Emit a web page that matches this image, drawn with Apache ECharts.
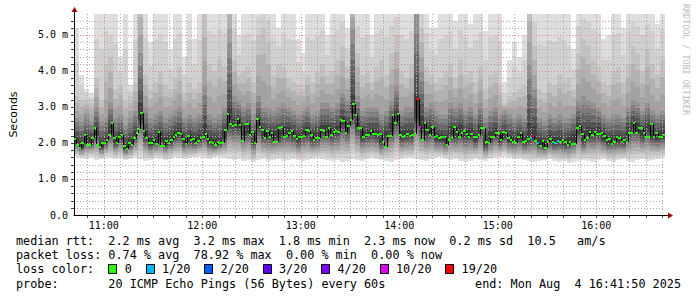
<!DOCTYPE html>
<html><head><meta charset="utf-8">
<script src="https://cdn.jsdelivr.net/npm/echarts@6/dist/echarts.min.js"></script>
<style>html,body{margin:0;padding:0;background:#fff}#c{width:697px;height:297px}</style>
</head><body><div id="c"></div>
<script>
// ---- time base (minutes since midnight) ----
const startMinute = 641 + 50 / 60;   // 10:41:50
const spanMinutes = 360;
const endMinute = startMinute + spanMinutes; // 16:41:50
const smokeStep = 3;      // minutes per smoke column
const medianStep = 1.5;   // minutes per median sample

// ---- median rtt, one value per 1.5 minutes (ms) ----
const medianRtt = [
 2.10,1.94,1.86,2.00,2.22,1.95,1.94,2.15,2.41,1.95,
 1.88,2.00,1.99,2.09,2.22,2.55,2.15,2.00,2.18,2.22,
 1.93,1.84,2.00,1.95,2.15,2.28,2.40,2.84,2.32,2.13,
 2.00,1.99,2.08,1.97,2.30,1.92,1.93,2.05,2.00,2.07,
 2.17,2.22,2.28,2.25,2.10,1.96,2.20,2.08,2.10,2.00,
 2.05,2.13,2.18,2.25,2.10,2.03,2.00,1.95,2.03,2.00,
 2.00,2.35,2.80,2.52,2.46,2.50,2.67,2.50,2.05,2.53,
 2.53,2.22,2.31,1.99,2.68,2.45,2.36,2.13,2.34,2.18,
 2.29,2.04,2.04,2.41,2.45,2.18,2.20,2.27,2.34,2.20,
 2.10,2.18,2.18,2.20,2.35,2.34,2.22,2.08,2.15,2.15,
 2.36,2.33,2.18,2.42,2.22,2.31,2.34,2.31,2.64,2.61,
 2.27,2.47,2.65,3.08,2.78,2.43,2.41,2.17,2.22,2.23,
 2.34,2.25,2.26,2.22,2.25,2.04,1.90,2.20,2.20,2.78,
 2.56,2.80,2.22,2.16,2.20,2.25,2.20,2.23,2.25,3.22,
 2.45,2.08,2.56,2.36,2.22,2.45,2.18,2.20,2.13,2.16,
 2.18,1.95,2.08,2.13,2.45,2.31,2.18,2.29,2.32,2.26,
 2.18,2.25,2.16,2.18,2.22,2.41,2.43,2.04,2.00,2.18,
 2.16,2.27,2.27,2.08,2.31,2.27,2.13,2.09,2.04,2.00,
 2.18,2.27,2.04,2.06,2.10,2.13,2.20,2.05,1.99,1.92,
 2.06,1.85,2.02,2.10,2.04,1.99,2.06,2.04,2.08,2.04,
 1.95,2.04,1.97,1.97,2.41,2.48,2.25,2.07,2.13,2.31,
 2.22,2.30,2.25,2.25,2.29,2.20,2.08,2.10,1.97,2.03,
 2.18,2.13,2.04,2.08,2.03,2.29,2.29,2.55,2.27,2.41,
 2.43,2.27,2.18,2.18,2.52,2.18,2.27,2.18,2.18,2.22
];
// ---- packet loss (median samples with loss only) ----
const lossSamples = [139, 140, 185, 186, 188, 195, 196];
const lossCounts  = [19,  10,  1,   19,  1,   1,   1];

// ---- smoke, one column per 3 minutes (ms) ----
const pingMin = [
 1.62,1.58,1.55,1.60,1.52,1.55,1.60,1.57,1.55,1.58,
 1.52,1.55,1.60,1.55,1.50,1.53,1.58,1.55,1.52,1.56,
 1.60,1.58,1.55,1.57,1.60,1.62,1.58,1.55,1.60,1.62,
 1.58,1.55,1.52,1.55,1.50,1.53,1.48,1.52,1.55,1.50,
 1.52,1.55,1.50,1.53,1.55,1.52,1.50,1.53,1.55,1.57,
 1.55,1.52,1.50,1.53,1.48,1.50,1.55,1.52,1.50,1.55,
 1.58,1.55,1.52,1.50,1.48,1.52,1.55,1.58,1.57,1.55,
 1.53,1.50,1.55,1.58,1.60,1.55,1.52,1.55,1.50,1.48,
 1.50,1.55,1.53,1.50,1.55,1.58,1.60,1.62,1.58,1.55,
 1.55,1.52,1.50,1.48,1.50,1.52,1.55,1.50,1.48,1.50,
 1.45,1.48,1.50,1.52,1.50,1.48,1.52,1.55,1.50,1.48,
 1.52,1.55,1.50,1.48,1.52,1.55,1.50,1.53,1.55,1.58
];
const pingCenter = [
 2.05,1.90,2.08,2.05,2.30,1.92,2.05,2.35,2.05,2.18,
 1.88,1.98,2.20,2.75,2.20,2.00,2.05,2.15,2.00,2.08,
 2.20,2.27,2.05,2.10,2.05,2.12,2.25,2.05,1.98,2.02,
 2.20,2.60,2.52,2.52,2.30,2.35,2.05,2.50,2.25,2.22,
 2.20,2.20,2.30,2.30,2.22,2.10,2.25,2.30,2.13,2.17,
 2.35,2.35,2.26,2.32,2.60,2.42,2.95,2.50,2.20,2.25,
 2.28,2.25,2.05,2.20,2.40,2.70,2.18,2.22,2.24,2.80,
 2.45,2.30,2.35,2.15,2.12,2.07,2.30,2.25,2.35,2.22,
 2.28,2.10,2.35,1.98,2.14,2.27,2.08,2.24,2.09,2.07,
 2.15,2.06,2.13,2.20,2.00,1.93,2.07,2.03,2.06,1.98,
 2.02,2.10,2.40,2.10,2.27,2.26,2.30,2.14,2.05,2.08,
 2.08,2.05,2.29,2.45,2.42,2.24,2.40,2.22,2.18,2.22
];
const pingUpperCore = [
 2.7,2.6,2.8,2.6,3.0,2.6,2.7,3.1,2.7,2.8,
 2.5,2.7,2.9,4.5,3.0,2.7,2.8,2.9,2.7,2.8,
 2.9,3.0,2.7,2.8,2.7,2.8,3.6,2.8,2.7,2.8,
 3.0,4.8,3.3,3.2,3.0,3.1,2.8,3.3,3.0,3.0,
 2.9,3.0,3.1,3.0,2.9,2.8,2.9,3.0,2.8,2.9,
 3.1,3.1,3.0,3.1,3.4,3.2,5.2,3.3,2.9,3.0,
 3.0,3.0,2.8,2.9,3.2,3.6,2.9,3.0,3.0,5.6,
 4.0,3.0,3.1,2.9,2.8,2.8,3.1,3.0,3.1,2.9,
 3.0,2.8,3.1,2.7,2.9,3.0,2.8,2.9,2.8,2.7,
 2.8,2.7,4.2,3.5,2.7,2.6,2.8,2.7,2.8,2.7,
 2.7,2.8,3.2,3.3,3.2,3.1,3.0,2.8,2.7,2.8,
 2.8,2.7,3.0,3.2,3.1,2.9,3.1,2.9,2.8,2.9
];
const pingUpperMid = [
 3.3,3.2,3.2,3.1,3.8,3.2,4.2,4.4,3.5,3.6,
 3.2,3.3,3.7,6.0,3.9,3.5,3.7,4.0,3.6,3.5,
 3.8,4.1,3.4,3.7,3.5,3.7,5.6,4.2,4.0,4.3,
 4.1,6.0,4.3,3.9,4.0,4.1,3.7,5.0,5.2,4.8,
 3.9,4.2,4.1,3.8,3.7,3.6,3.5,3.9,3.7,4.0,
 4.2,3.9,4.0,4.3,4.7,4.1,6.0,4.5,3.9,4.0,
 3.7,4.1,4.3,3.9,4.5,5.0,4.0,3.8,4.2,6.0,
 5.2,4.1,3.9,3.7,3.8,4.0,4.2,3.8,4.3,3.9,
 4.0,3.7,4.1,3.5,3.9,4.0,3.6,3.1,3.3,3.4,
 3.5,3.6,6.0,4.7,3.5,3.4,3.7,3.6,3.9,3.7,
 3.8,3.5,4.5,4.9,4.7,4.3,4.1,3.7,3.6,4.0,
 4.1,3.7,4.2,4.7,4.5,4.0,4.6,4.2,3.9,4.3
];
const pingMax = [
 5.2,3.9,3.5,3.4,6.0,6.0,6.0,5.6,6.0,4.4,
 6.0,3.6,6.0,6.0,6.0,4.8,6.0,6.0,6.0,4.6,
 6.0,6.0,4.4,6.0,4.9,6.0,6.0,6.0,6.0,6.0,
 6.0,6.0,6.0,5.0,6.0,6.0,6.0,6.0,6.0,6.0,
 6.0,5.2,6.0,6.0,6.0,4.9,4.5,6.0,6.0,6.0,
 6.0,5.0,6.0,6.0,6.0,5.2,6.0,6.0,6.0,6.0,
 5.0,6.0,6.0,6.0,6.0,6.0,6.0,6.0,6.0,6.0,
 6.0,6.0,5.2,5.2,6.0,6.0,6.0,5.4,6.0,6.0,
 5.3,6.0,6.0,5.1,6.0,6.0,6.0,3.7,4.3,4.8,
 4.4,5.0,6.0,6.0,6.0,6.0,6.0,6.0,6.0,6.0,
 5.6,4.6,6.0,6.0,6.0,6.0,6.0,4.9,5.0,6.0,
 6.0,5.2,6.0,6.0,6.0,6.0,6.0,6.0,5.3,6.0
];

// ---- legend / text ----
const lossLevels = [0, 1, 2, 3, 4, 10, 19];
const lossLabels = ['0', '1/20', '2/20', '3/20', '4/20', '10/20', '19/20'];
const lossColors = ['#26ff00', '#00b8ff', '#0059ff', '#5e00ff', '#7e00ff', '#dd00ff', '#ff0000'];
const xTickMinutes = [660, 720, 780, 840, 900, 960];
const xTickLabels = ['11:00', '12:00', '13:00', '14:00', '15:00', '16:00'];
const yTickLabels = ['0.0', '1.0 m', '2.0 m', '3.0 m', '4.0 m', '5.0 m'];
const statLine1 = 'median rtt:  2.2 ms avg  3.2 ms max  1.8 ms min  2.3 ms now  0.2 ms sd  10.5   am/s';
const statLine2 = 'packet loss: 0.74 % avg  78.92 % max  0.00 % min  0.00 % now';
const lossTitle = 'loss color:';
const probeLine = 'probe:       20 ICMP Echo Pings (56 Bytes) every 60s';
const endLine = 'end: Mon Aug  4 16:41:50 2025';
const yMax = 5.583;

const smokeShades = ['#dedede','#d0d0d0','#c2c2c2','#b2b2b2','#a2a2a2','#909090','#7c7c7c','#686868','#535353','#3e3e3e'];
const MONO = '"DejaVu Sans Mono", monospace';
const MAJOR_GRID = '#f08a8a';
const MINOR_GRID = '#a8a8a8';

// ---- build series data ----
const smokeData = pingCenter.map((c, k) => [
  startMinute + k * smokeStep, startMinute + (k + 1) * smokeStep,
  pingMin[k], pingUpperCore[k], pingUpperMid[k], pingMax[k], c]);
const medianData = medianRtt.map((m, k) => {
  const li = lossSamples.indexOf(k);
  const loss = li >= 0 ? lossCounts[li] : 0;
  return [startMinute + k * medianStep, startMinute + (k + 1) * medianStep,
          m, k > 0 ? medianRtt[k - 1] : m, lossLevels.indexOf(loss)];
});
const gridMinutes = [];
for (let t = 650; t < endMinute; t += 10) gridMinutes.push(t);
const gridLevels = [];
for (let v = 1; v <= 27; v++) gridLevels.push(v / 5);

function renderSmoke(params, api) {
  const t0 = api.value(0), t1 = api.value(1);
  const lo = api.value(2), core = api.value(3), mid = api.value(4), hi = api.value(5), med = api.value(6);
  const x0 = Math.round(api.coord([t0, 0])[0]), x1 = Math.round(api.coord([t1, 0])[0]);
  const children = [];
  for (let j = 0; j < 10; j++) {
    const lower = lo + (med - lo) * j / 10;
    let upper;
    if (j <= 2) upper = hi + (mid - hi) * j / 2;
    else if (j <= 5) upper = mid + (core - mid) * (j - 2) / 3;
    else upper = core + (med - core) * (j - 5) / 5;
    const yT = Math.round(api.coord([t0, upper])[1]);
    const yB = Math.round(api.coord([t0, lower])[1]);
    children.push({type: 'rect', shape: {x: x0, y: yT, width: x1 - x0, height: yB - yT},
      style: {fill: smokeShades[j]}});
  }
  return {type: 'group', children};
}
function renderMedian(params, api) {
  const t0 = api.value(0), t1 = api.value(1), m = api.value(2), prev = api.value(3), ci = api.value(4);
  const a = api.coord([t0, m]), b = api.coord([t1, m]), p = api.coord([t0, prev]);
  const x0 = Math.round(a[0]), x1 = Math.round(b[0]);
  return {type: 'group', children: [
    {type: 'line', shape: {x1: x0 + 0.5, y1: Math.round(p[1]), x2: x0 + 0.5, y2: Math.round(a[1])},
     style: {stroke: '#000', lineWidth: 1}},
    {type: 'rect', shape: {x: x0, y: Math.round(a[1]) - 1, width: Math.max(1, x1 - x0), height: 2},
     style: {fill: lossColors[ci]}}
  ]};
}
function renderVGrid(params, api) {
  const t = api.value(0);
  const top = api.coord([t, yMax]), bot = api.coord([t, 0]);
  const x = Math.round(top[0]) + 0.5;
  const major = (t % 60) === 0;
  return {type: 'group', children: [
    {type: 'line', shape: {x1: x, y1: Math.round(top[1]), x2: x, y2: Math.round(bot[1])},
     style: {stroke: major ? MAJOR_GRID : MINOR_GRID, lineWidth: 1, lineDash: [1, 2]}},
    {type: 'line', shape: {x1: x, y1: Math.round(bot[1]), x2: x, y2: Math.round(bot[1]) + 3},
     style: {stroke: '#444', lineWidth: 1}}
  ]};
}
function renderHGrid(params, api) {
  const v = api.value(1);
  const l = api.coord([startMinute, v]), r = api.coord([endMinute, v]);
  const y = Math.round(l[1]) + 0.5;
  const major = Math.abs(v - Math.round(v)) < 1e-6;
  return {type: 'group', children: [
    {type: 'line', shape: {x1: Math.round(l[0]), y1: y, x2: Math.round(r[0]), y2: y},
     style: {stroke: major ? MAJOR_GRID : MINOR_GRID, lineWidth: 1, lineDash: [1, 2]}},
    {type: 'line', shape: {x1: Math.round(l[0]) - 3, y1: y, x2: Math.round(l[0]), y2: y},
     style: {stroke: '#444', lineWidth: 1}}
  ]};
}
function renderArrows(params, api) {
  const o = api.coord([startMinute, 0]), e = api.coord([endMinute, 0]), tp = api.coord([startMinute, yMax]);
  const ox = Math.round(o[0]) + 0.5, oy = Math.round(o[1]) + 0.5;
  const ex = Math.round(e[0]), ty = Math.round(tp[1]);
  return {type: 'group', children: [
    {type: 'line', shape: {x1: ex, y1: oy, x2: ex + 4, y2: oy}, style: {stroke: '#000', lineWidth: 1}},
    {type: 'polygon', shape: {points: [[ex + 3, oy - 3], [ex + 8, oy], [ex + 3, oy + 3]]}, style: {fill: '#a00000'}},
    {type: 'line', shape: {x1: ox, y1: ty, x2: ox, y2: ty - 3}, style: {stroke: '#000', lineWidth: 1}},
    {type: 'polygon', shape: {points: [[ox - 3, ty - 2], [ox, ty - 7], [ox + 3, ty - 2]]}, style: {fill: '#a00000'}}
  ]};
}

// ---- legend graphics ----
const charW = 7.1;
const textX = 16;
const legendChildren = [];
let lx = textX + 13 * charW;
lossLabels.forEach((lab, i) => {
  legendChildren.push({type: 'rect', shape: {x: Math.round(lx) + 0.5, y: 264.5, width: 8, height: 9},
    style: {fill: lossColors[i], stroke: '#000', lineWidth: 1}});
  legendChildren.push({type: 'text', x: lx + 16.5, y: 269,
    style: {text: lab, font: '11.8px ' + MONO, fill: '#000', textVerticalAlign: 'middle'}});
  lx += 30.1 + charW * lab.length;
});

const chart = echarts.init(document.getElementById('c'), null, {renderer: 'svg', width: 697, height: 297});
chart.setOption({
  animation: false,
  backgroundColor: '#fff',
  grid: {left: 67, right: 32, top: 14, bottom: 82, containLabel: false},
  xAxis: {
    type: 'value', min: startMinute, max: endMinute, z: 4,
    axisLine: {show: true, lineStyle: {color: '#000', width: 1}},
    axisTick: {show: false},
    splitLine: {show: false},
    axisLabel: {customValues: xTickMinutes, margin: 5,
      formatter: v => xTickLabels[xTickMinutes.indexOf(Math.round(v))] || '',
      fontFamily: MONO, fontSize: 10, color: '#000'}
  },
  yAxis: {
    type: 'value', min: 0, max: yMax, interval: 1, z: 4,
    name: 'Seconds', nameLocation: 'middle', nameGap: 55, nameRotate: 90,
    nameTextStyle: {fontFamily: '"DejaVu Sans", sans-serif', fontSize: 11, color: '#000'},
    axisLine: {show: true, lineStyle: {color: '#000', width: 1}},
    axisTick: {show: false},
    splitLine: {show: false},
    axisLabel: {margin: 6, showMaxLabel: false,
      formatter: v => yTickLabels[Math.round(v)] !== undefined && Math.abs(v - Math.round(v)) < 1e-6 ? yTickLabels[Math.round(v)] : '',
      fontFamily: MONO, fontSize: 10, color: '#000'}
  },
  series: [
    {type: 'custom', name: 'smoke', z: 1, clip: true, renderItem: renderSmoke, data: smokeData,
     encode: {x: [0, 1], y: [2, 5]}, silent: true},
    {type: 'custom', name: 'vgrid', z: 3, clip: false, renderItem: renderVGrid, data: gridMinutes.map(t => [t]),
     encode: {x: 0}, silent: true},
    {type: 'custom', name: 'hgrid', z: 3, clip: false, renderItem: renderHGrid, data: gridLevels.map(v => [startMinute, v]),
     encode: {x: 0, y: 1}, silent: true},
    {type: 'custom', name: 'median rtt', z: 5, clip: true, renderItem: renderMedian, data: medianData,
     encode: {x: [0, 1], y: 2}, silent: true},
    {type: 'custom', name: 'arrows', z: 4, clip: false, renderItem: renderArrows, data: [[startMinute]],
     encode: {x: 0}, silent: true}
  ],
  graphic: [
    {type: 'text', x: 686, y: 4, rotation: -Math.PI / 2, originX: 0, originY: 0,
     style: {text: 'RRDTOOL / TOBI OETIKER', font: '8.4px ' + MONO, fill: '#bbbbbb', textVerticalAlign: 'middle'}},
    {type: 'text', x: textX, y: 241, style: {text: statLine1, font: '11.8px ' + MONO, fill: '#000', textVerticalAlign: 'middle'}},
    {type: 'text', x: textX, y: 255, style: {text: statLine2, font: '11.8px ' + MONO, fill: '#000', textVerticalAlign: 'middle'}},
    {type: 'text', x: textX, y: 269, style: {text: lossTitle, font: '11.8px ' + MONO, fill: '#000', textVerticalAlign: 'middle'}},
    {type: 'text', x: textX, y: 284, style: {text: probeLine, font: '11.8px ' + MONO, fill: '#000', textVerticalAlign: 'middle'}},
    {type: 'text', x: 681, y: 284, style: {text: endLine, font: '11.8px ' + MONO, fill: '#000', textAlign: 'right', textVerticalAlign: 'middle'}},
    {type: 'group', children: legendChildren}
  ]
});
</script></body></html>
